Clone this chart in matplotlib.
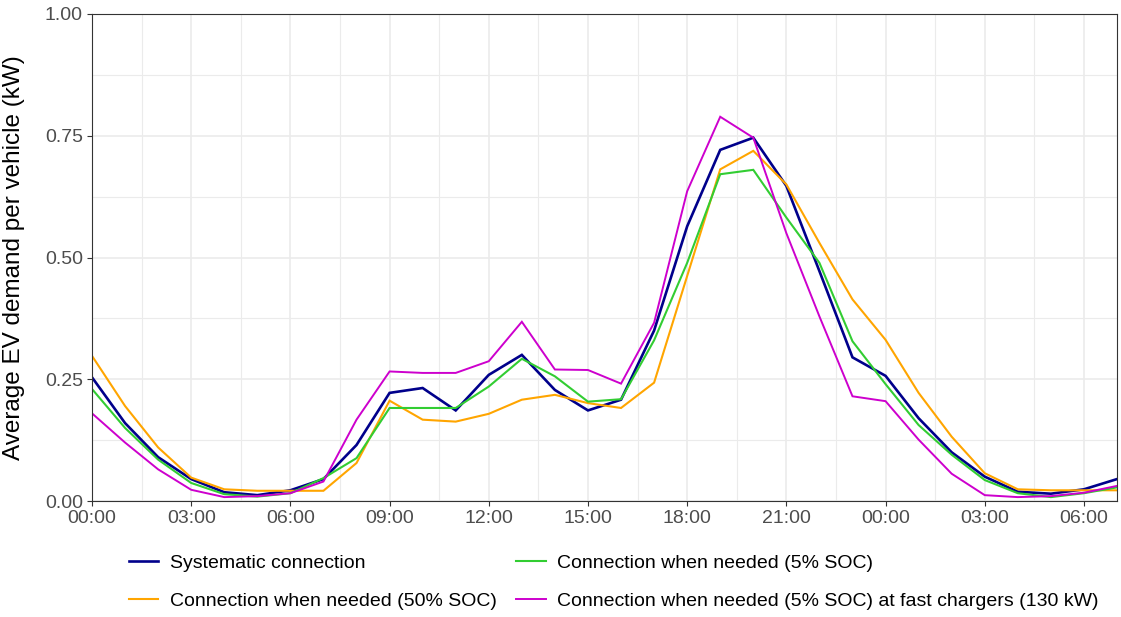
import numpy as np
import matplotlib
matplotlib.use("Agg")
import matplotlib.pyplot as plt
from matplotlib.ticker import MultipleLocator

plt.rcParams['font.family'] = ['Liberation Sans', 'DejaVu Sans']

# hours from 00:00 day 1 to 07:00 day 2
hours = list(range(32))

systematic = [0.254, 0.16, 0.09, 0.045, 0.018, 0.012, 0.022, 0.045,
              0.115, 0.222, 0.232, 0.186, 0.259, 0.300, 0.228, 0.186,
              0.208, 0.350, 0.564, 0.721, 0.746, 0.647, 0.472, 0.295,
              0.257, 0.170, 0.100, 0.050, 0.019, 0.015, 0.024, 0.045]
needed_50 = [0.298, 0.195, 0.11, 0.048, 0.024, 0.021, 0.021, 0.021,
             0.078, 0.206, 0.167, 0.163, 0.179, 0.208, 0.218, 0.201,
             0.191, 0.243, 0.462, 0.681, 0.719, 0.650, 0.530, 0.414,
             0.331, 0.222, 0.132, 0.057, 0.024, 0.022, 0.022, 0.022]
needed_5 = [0.230, 0.15, 0.085, 0.037, 0.014, 0.009, 0.016, 0.047,
            0.088, 0.191, 0.191, 0.191, 0.235, 0.292, 0.256, 0.204,
            0.209, 0.330, 0.489, 0.671, 0.680, 0.582, 0.489, 0.328,
            0.240, 0.156, 0.095, 0.043, 0.016, 0.008, 0.016, 0.028]
fast_5 = [0.180, 0.12, 0.065, 0.023, 0.008, 0.010, 0.016, 0.040,
          0.167, 0.266, 0.263, 0.263, 0.287, 0.368, 0.270, 0.269,
          0.241, 0.366, 0.636, 0.789, 0.746, 0.550, 0.379, 0.215,
          0.205, 0.126, 0.056, 0.012, 0.008, 0.010, 0.017, 0.031]

labels = ["Systematic connection",
          "Connection when needed (50% SOC)",
          "Connection when needed (5% SOC)",
          "Connection when needed (5% SOC) at fast chargers (130 kW)"]
colors = ["#00008B", "#FFA500", "#32CD32", "#CD00CD"]
widths = [1.9, 1.5, 1.5, 1.4]
tick_labels = ["00:00", "03:00", "06:00", "09:00", "12:00", "15:00",
               "18:00", "21:00", "00:00", "03:00", "06:00"]

fig = plt.figure(figsize=(11.21, 6.17), dpi=100)
ax = fig.add_axes([92/1121, 1-501/617, 1025/1121, 487/617])

for y, c, w, lab in zip([systematic, needed_50, needed_5, fast_5], colors, widths, labels):
    ax.plot(hours, y, color=c, lw=w, label=lab, solid_joinstyle='miter')

ax.set_xlim(0, 31)
ax.set_ylim(0, 1)
ax.set_xticks(range(0, 31, 3))
ax.set_xticklabels(tick_labels)
ax.xaxis.set_minor_locator(MultipleLocator(1.5))
ax.set_yticks([0, 0.25, 0.5, 0.75, 1.0])
ax.set_yticklabels(["0.00", "0.25", "0.50", "0.75", "1.00"])
ax.yaxis.set_minor_locator(MultipleLocator(0.125))

ax.grid(True, which='major', color='#EBEBEB', lw=1.2)
ax.grid(True, which='minor', color='#EBEBEB', lw=0.8)
ax.set_axisbelow(True)
ax.tick_params(which='minor', length=0)
ax.tick_params(which='major', length=3.6, width=0.8, color='#333333',
               labelsize=14, labelcolor='#4D4D4D', pad=3)
for s in ax.spines.values():
    s.set_color('#333333')
    s.set_linewidth(0.8)

ax.set_ylabel("Average EV demand per vehicle (kW)", fontsize=17.5, color='black')
ax.yaxis.set_label_coords(-0.065, 0.5)

fig.legend(loc='center', bbox_to_anchor=(614/1121, 1-582/617), ncol=2, frameon=False,
           fontsize=14, handlelength=1.5, handletextpad=0.6, columnspacing=1.0,
           labelspacing=1.05, borderaxespad=0)

fig.savefig("out.png", dpi=100)
